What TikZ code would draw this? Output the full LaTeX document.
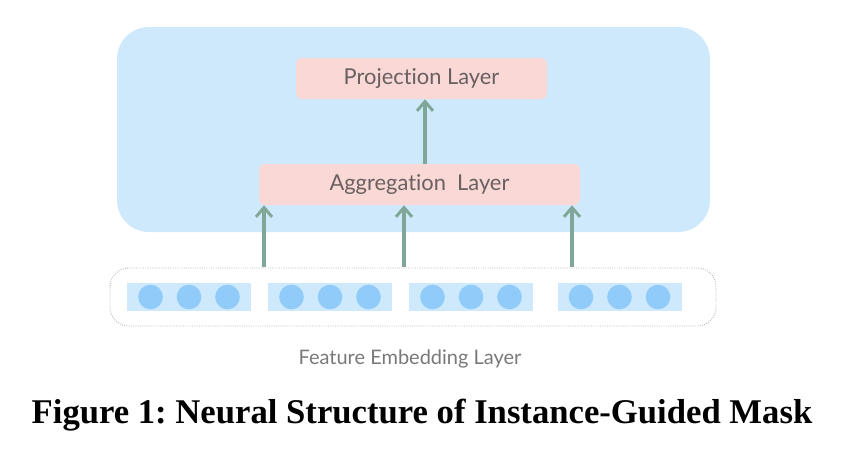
\documentclass[tikz,border=0pt]{standalone}
\usepackage{fontspec}
\newfontfamily\lblfont[Ligatures={NoCommon}]{Lato}
\newfontfamily\capfont{Liberation Serif}
\usetikzlibrary{arrows.meta}
\frenchspacing

\definecolor{panelblue}{RGB}{207,233,252}
\definecolor{layerpink}{RGB}{249,216,214}
\definecolor{dotblue}{RGB}{145,203,250}
\definecolor{arrowgreen}{RGB}{128,166,152}
\definecolor{lbltext}{RGB}{105,96,96}

\tikzset{
  layerbox/.style={fill=layerpink, rounded corners=4pt, inner sep=0pt, font=\lblfont\fontsize{16.4}{19}\selectfont, text=lbltext},
  embgroup/.style={fill=panelblue, inner sep=0pt, minimum width=93pt, minimum height=21pt},
  embdot/.style={circle, fill=dotblue, inner sep=0pt, minimum size=18.5pt},
  uparrow/.style={draw=arrowgreen, line width=2.4pt, -{Straight Barb[length=7pt,width=12pt,line width=2.2pt]}}
}

\begin{document}
\begin{tikzpicture}[x=0.75pt,y=0.75pt,yscale=-1,xscale=1]
        \useasboundingbox (0,0) rectangle (866,450);

        %Shape: Rounded Rect [id:panel]
        \fill [panelblue, rounded corners=24pt] (117,27) rectangle (710,232);

        %Shape: Layers
        \node [layerbox, minimum width=188.25pt, minimum height=30.75pt] (proj) at (421.5,78.5) {Projection Layer};
        \node [layerbox, minimum width=240.75pt, minimum height=30.75pt] (agg) at (419.5,184.5) {Aggregation\ \ Layer};

        %Shape: Dashed Rounded Rect [id:emb]
        \draw [gray!55, densely dotted, line width=0.7pt, rounded corners=14pt] (110,268) rectangle (716,326);
        \node [font=\lblfont\fontsize{15}{18}\selectfont, text=gray!95!black] (embtxt) at (410,359) {Feature Embedding Layer};

        %Shape: Embedding groups
        \foreach \g/\cx in {1/189, 2/330, 3/471, 4/619.5} {
          \node [embgroup] (grp\g) at (\cx,297) {};
          \foreach \k/\dx in {1/-38.5, 2/0, 3/38.5}
            \node [embdot] (dot\g\k) at (\cx+\dx,297) {};
        }

        %Straight Lines
        \coordinate (s1) at (264,267);
        \coordinate (s2) at (404,267);
        \coordinate (s3) at (572,267);
        \foreach \s in {s1,s2,s3}
          \draw [uparrow] (\s) -- (\s |- agg.south);
        \draw [uparrow] (agg.north -| 425,0) -- (proj.south -| 425,0);

        %Caption
        \node [font=\capfont\fontsize{26}{31}\selectfont\bfseries] (caption) at (422,415) {Figure 1: Neural Structure of Instance-Guided Mask};
\end{tikzpicture}
\end{document}
